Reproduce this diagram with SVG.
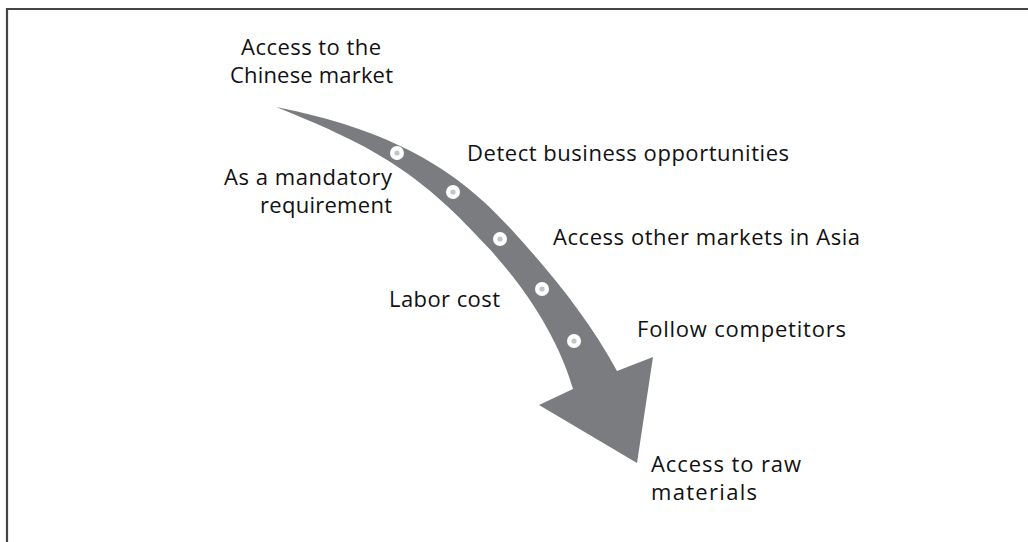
<svg xmlns="http://www.w3.org/2000/svg" width="1028" height="542" viewBox="0 0 1028 542">
<style>
.t{font-family:"Open Sans","Liberation Sans",Arial,sans-serif;font-size:22px;fill:#111;}
.ring{fill:#fff;}
.pip{fill:#c4c4c4;}
</style>
<rect width="1028" height="542" fill="#fff"/>
<polyline points="7,542 7,9 1028,9" fill="none" stroke="#454545" stroke-width="2.2"/>
<g id="arrow">
<path fill="#7b7c7f" d="M276,107 C393.7,130.5 457.2,169.8 511,229 C551.4,273.4 588,317.9 617,371 L653,357 L637,463 L539,405 L573,389 C558,337.7 526.3,289.5 489.3,248.8 C422,174.8 378.3,147.7 276,107 Z"/>
</g>
<g id="dots">
<circle class="ring" cx="397" cy="153" r="7"/><circle class="pip" cx="397" cy="153" r="2.6"/>
<circle class="ring" cx="453" cy="192" r="7"/><circle class="pip" cx="453" cy="192" r="2.6"/>
<circle class="ring" cx="500" cy="239" r="7"/><circle class="pip" cx="500" cy="239" r="2.6"/>
<circle class="ring" cx="542" cy="289" r="7"/><circle class="pip" cx="542" cy="289" r="2.6"/>
<circle class="ring" cx="574" cy="341" r="7"/><circle class="pip" cx="574" cy="341" r="2.6"/>
</g>
<g id="label-chinese-market">
<text class="t"><tspan x="241" y="55" textLength="140">Access to the</tspan><tspan x="230" y="83" textLength="163">Chinese market</tspan></text>
</g>
<g id="label-mandatory">
<text class="t"><tspan x="224" y="185" textLength="168">As a mandatory</tspan><tspan x="260" y="213" textLength="132">requirement</tspan></text>
</g>
<g id="label-detect">
<text class="t" x="467" y="161" textLength="322">Detect business opportunities</text>
</g>
<g id="label-asia">
<text class="t" x="553" y="245" textLength="307">Access other markets in Asia</text>
</g>
<g id="label-labor">
<text class="t" x="389" y="307" textLength="111">Labor cost</text>
</g>
<g id="label-follow">
<text class="t" x="637" y="337" textLength="209">Follow competitors</text>
</g>
<g id="label-raw">
<text class="t"><tspan x="651" y="472" textLength="150">Access to raw</tspan><tspan x="651" y="500" textLength="106">materials</tspan></text>
</g>
</svg>
